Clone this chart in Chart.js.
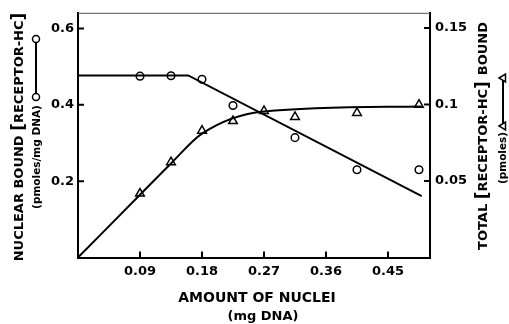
<!DOCTYPE html>
<html>
<head>
<meta charset="utf-8">
<script src="https://cdn.jsdelivr.net/npm/chart.js@4.4.1/dist/chart.umd.min.js"></script>
<style>
html, body { margin: 0; padding: 0; background: #fff; }
</style>
</head>
<body>
<canvas id="chart" width="509" height="324"></canvas>
<script>
// nuclear bound (circles, left axis)
const circleX = [0.09, 0.135, 0.18, 0.225, 0.315, 0.405, 0.495];
const nuclearBound = [0.475, 0.476, 0.467, 0.398, 0.314, 0.230, 0.230];
// total bound (triangles, right axis)
const triangleX = [0.09, 0.135, 0.18, 0.225, 0.27, 0.315, 0.405, 0.495];
const totalBound = [0.0418, 0.0623, 0.0829, 0.0892, 0.0958, 0.0919, 0.0945, 0.0999];
// drawn curves
const nuclearFitX = [0, 0.16, 0.499];
const nuclearFitY = [0.477, 0.477, 0.161];
const totalFitX = [0, 0.09, 0.135, 0.18, 0.27, 0.499];
const totalFitY = [0, 0.041, 0.0615, 0.081, 0.0955, 0.0988];
// ticks
const xTicks = [0.09, 0.18, 0.27, 0.36, 0.45];
const xTickLabels = ['0.09', '0.18', '0.27', '0.36', '0.45'];
const leftTicks = [0.2, 0.4, 0.6];
const leftTickLabels = ['0.2', '0.4', '0.6'];
const rightTicks = [0.05, 0.1, 0.15];
const rightTickLabels = ['0.05', '0.1', '0.15'];

const FONT = 'DejaVu Sans';

function pts(xs, ys) {
    return xs.map((x, i) => ({ x: x, y: ys[i] }));
}

function setTicks(values) {
    return function(scale) {
        scale.ticks = values.map(v => ({ value: v }));
    };
}

function labelFrom(values, labels) {
    return function(value) {
        var i = values.indexOf(value);
        return i >= 0 ? labels[i] : '';
    };
}

// draw text runs rotated -90deg, centred at (x, y)
function drawRotated(ctx, x, y, runs) {
    ctx.save();
    ctx.translate(x, y);
    ctx.rotate(-Math.PI / 2);
    ctx.textBaseline = 'middle';
    ctx.textAlign = 'left';
    var total = 0;
    runs.forEach(r => { ctx.font = r.f; r.w = ctx.measureText(r.t).width; total += r.w; });
    var pos = -total / 2;
    runs.forEach(r => { ctx.font = r.f; ctx.fillText(r.t, pos, 0); pos += r.w; });
    ctx.restore();
}

const decorPlugin = {
    id: 'decor',
    afterDraw(chart) {
        const ctx = chart.ctx;
        const area = chart.chartArea;
        const x = chart.scales.x, yL = chart.scales.yL, yR = chart.scales.yR;
        ctx.save();
        ctx.fillStyle = '#000';

        // thin top border
        ctx.lineWidth = 1;
        ctx.strokeStyle = '#555';
        ctx.beginPath();
        ctx.moveTo(area.left, area.top + 0.5);
        ctx.lineTo(area.right, area.top + 0.5);
        ctx.stroke();

        // inward ticks
        ctx.strokeStyle = '#000';
        ctx.lineWidth = 2;
        ctx.beginPath();
        xTicks.forEach(v => {
            var px = x.getPixelForValue(v);
            ctx.moveTo(px, area.bottom);
            ctx.lineTo(px, area.bottom - 6);
        });
        leftTicks.forEach(v => {
            var py = yL.getPixelForValue(v);
            ctx.moveTo(area.left, py);
            ctx.lineTo(area.left + 6, py);
        });
        rightTicks.forEach(v => {
            var py = yR.getPixelForValue(v);
            ctx.moveTo(area.right, py);
            ctx.lineTo(area.right - 6, py);
        });
        ctx.stroke();

        // x axis title
        ctx.textAlign = 'center';
        ctx.textBaseline = 'middle';
        ctx.font = 'bold 14px ' + FONT;
        ctx.fillText('AMOUNT OF NUCLEI', 257, 298);
        ctx.font = 'bold 13px ' + FONT;
        ctx.fillText('(mg DNA)', 263, 317);

        // left axis title
        drawRotated(ctx, 20, 137, [
            { t: 'NUCLEAR BOUND ', f: 'bold 13px ' + FONT },
            { t: '[', f: 'bold 17px ' + FONT },
            { t: 'RECEPTOR-HC', f: 'bold 13px ' + FONT },
            { t: ']', f: 'bold 17px ' + FONT }
        ]);
        drawRotated(ctx, 37, 157, [{ t: '(pmoles/mg DNA)', f: 'bold 10.5px ' + FONT }]);
        // circle symbol
        ctx.lineWidth = 2;
        ctx.beginPath();
        ctx.moveTo(36, 94);
        ctx.lineTo(36, 42);
        ctx.stroke();
        ctx.lineWidth = 1.5;
        [97, 39].forEach(cy => {
            ctx.beginPath();
            ctx.arc(36, cy, 3.5, 0, Math.PI * 2);
            ctx.fillStyle = '#fff';
            ctx.fill();
            ctx.stroke();
        });
        ctx.fillStyle = '#000';

        // right axis title
        drawRotated(ctx, 484, 136, [
            { t: 'TOTAL ', f: 'bold 13px ' + FONT },
            { t: '[', f: 'bold 17px ' + FONT },
            { t: 'RECEPTOR-HC', f: 'bold 13px ' + FONT },
            { t: '] ', f: 'bold 17px ' + FONT },
            { t: 'BOUND', f: 'bold 13px ' + FONT }
        ]);
        drawRotated(ctx, 503, 158, [{ t: '(pmoles)', f: 'bold 10.5px ' + FONT }]);
        // triangle symbol (pointing left, label is rotated)
        ctx.lineWidth = 2;
        ctx.beginPath();
        ctx.moveTo(503, 123);
        ctx.lineTo(503, 81);
        ctx.stroke();
        ctx.lineWidth = 1.5;
        [126, 78].forEach(cy => {
            ctx.beginPath();
            ctx.moveTo(499, cy);
            ctx.lineTo(505.5, cy - 4);
            ctx.lineTo(505.5, cy + 4);
            ctx.closePath();
            ctx.fillStyle = '#fff';
            ctx.fill();
            ctx.stroke();
        });
        ctx.restore();
    }
};

const noGrid = { display: false, drawTicks: false, tickLength: 0 };

const ctx = document.getElementById('chart').getContext('2d');
const chart = new Chart(ctx, {
    type: 'line',
    data: {
        datasets: [{
            data: pts(nuclearFitX, nuclearFitY),
            yAxisID: 'yL',
            borderColor: '#000',
            borderWidth: 2,
            pointRadius: 0,
            tension: 0
        }, {
            data: pts(totalFitX, totalFitY),
            yAxisID: 'yR',
            borderColor: '#000',
            borderWidth: 2,
            pointRadius: 0,
            cubicInterpolationMode: 'monotone'
        }, {
            data: pts(circleX, nuclearBound),
            yAxisID: 'yL',
            showLine: false,
            pointStyle: 'circle',
            pointRadius: 3.8,
            pointBorderWidth: 1.5,
            pointBorderColor: '#000',
            pointBackgroundColor: '#fff'
        }, {
            data: pts(triangleX, totalBound),
            yAxisID: 'yR',
            showLine: false,
            pointStyle: 'triangle',
            pointRadius: 5,
            pointBorderWidth: 1.5,
            pointBorderColor: '#000',
            pointBackgroundColor: '#fff'
        }]
    },
    options: {
        responsive: false,
        animation: false,
        layout: { padding: { top: 9 } },
        plugins: {
            legend: { display: false },
            tooltip: { enabled: false }
        },
        scales: {
            x: {
                type: 'linear',
                min: 0,
                max: 0.511,
                afterBuildTicks: setTicks(xTicks),
                afterFit(scale) { scale.height = 66.5; },
                grid: noGrid,
                border: { display: true, color: '#000', width: 2 },
                ticks: {
                    callback: labelFrom(xTicks, xTickLabels),
                    color: '#000',
                    padding: 6,
                    maxRotation: 0,
                    font: { family: FONT, size: 13, weight: 'bold' }
                }
            },
            yL: {
                type: 'linear',
                position: 'left',
                min: 0,
                max: 0.641,
                afterBuildTicks: setTicks(leftTicks),
                afterFit(scale) { scale.width = 78; },
                grid: noGrid,
                border: { display: true, color: '#000', width: 2 },
                ticks: {
                    callback: labelFrom(leftTicks, leftTickLabels),
                    color: '#000',
                    padding: 4,
                    font: { family: FONT, size: 13, weight: 'bold' }
                }
            },
            yR: {
                type: 'linear',
                position: 'right',
                min: 0,
                max: 0.16,
                afterBuildTicks: setTicks(rightTicks),
                afterFit(scale) { scale.width = 79; },
                grid: noGrid,
                border: { display: true, color: '#000', width: 2 },
                ticks: {
                    callback: labelFrom(rightTicks, rightTickLabels),
                    color: '#000',
                    padding: 5,
                    font: { family: FONT, size: 13, weight: 'bold' }
                }
            }
        }
    },
    plugins: [decorPlugin]
});
</script>
</body>
</html>
